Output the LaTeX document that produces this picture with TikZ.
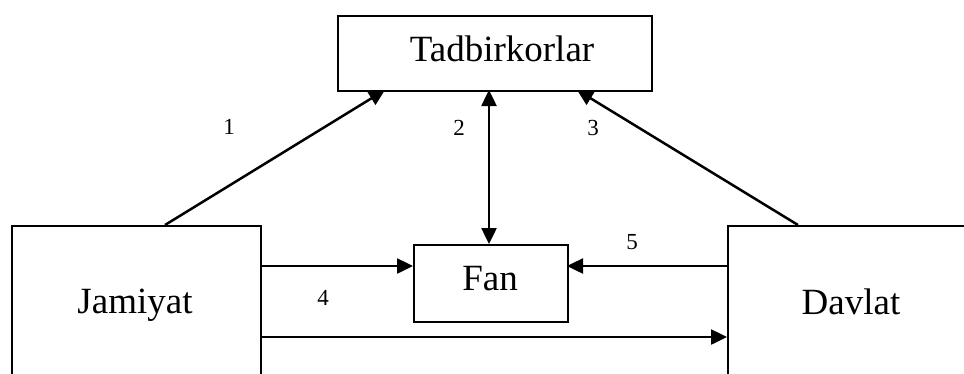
\documentclass[tikz,border=0pt]{standalone}
\usepackage{fontspec}
\setmainfont{Liberation Serif}
\usetikzlibrary{arrows.meta,calc}
\begin{document}
\begin{tikzpicture}[x=1pt,y=-1pt,
  boxnode/.style={draw,line width=1.9pt,rectangle,inner sep=0pt,anchor=north west},
  bigtext/.style={font=\fontsize{37}{44}\selectfont,anchor=base,inner sep=0pt},
  numtext/.style={font=\fontsize{23}{27}\selectfont,inner sep=0pt},
  tip/.style={Triangle[length=16pt,width=15pt]},
  conn/.style={line width=2.5pt,-{Triangle[length=16pt,width=15pt]}},
  dconn/.style={line width=2.5pt,{Triangle[length=16pt,width=15pt]}-{Triangle[length=16pt,width=15pt]}}]
\useasboundingbox (0,0) rectangle (964,373);
\clip (0,0) rectangle (964,373);
% boxes
\node[boxnode,minimum width=314pt,minimum height=75pt] (tad) at (337,15) {};
\node[boxnode,minimum width=154pt,minimum height=77pt] (fan) at (413,244) {};
\node[boxnode,minimum width=249pt,minimum height=200pt] (jam) at (11,225) {};
\node[boxnode,minimum width=300pt,minimum height=200pt] (dav) at (727,225) {};
% texts
\node[bigtext] (tadt) at (502,61) {Tadbirkorlar};
\node[bigtext] (fant) at (490,290) {Fan};
\node[bigtext] (jamt) at (135,313) {Jamiyat};
\node[bigtext] (davt) at (851,314) {Davlat};
% attachment points
\coordinate (j1) at (165,225);
\coordinate (t1) at (385,90);
\coordinate (t2) at (489,90);
\coordinate (f2) at (489,244);
\coordinate (d3) at (798,225);
\coordinate (t3) at (577,90);
\coordinate (j4) at (260,266);
\coordinate (f4) at (413,266);
\coordinate (d5) at (727,266);
\coordinate (f5) at (567,266);
\coordinate (j6) at (260,337);
\coordinate (d6) at (727,337);
% connectors
\draw[conn] (j1) -- (t1);
\draw[dconn] (t2) -- (f2);
\draw[conn] (d3) -- (t3);
\draw[conn] (j4) -- (f4);
\draw[conn] (d5) -- (f5);
\draw[conn] (j6) -- (d6);
% numbers
\node[numtext] (n1) at (229,127) {1};
\node[numtext] (n2) at (459,128) {2};
\node[numtext] (n3) at (593,128) {3};
\node[numtext] (n5) at (632,242) {5};
\node[numtext] (n4) at (323,298) {4};
\end{tikzpicture}
\end{document}
